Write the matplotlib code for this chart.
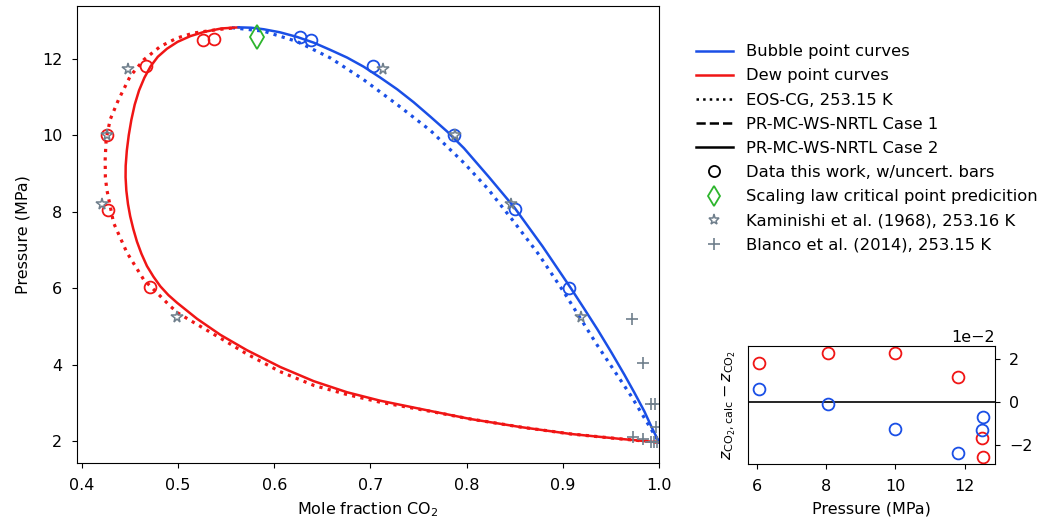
import matplotlib
matplotlib.use("Agg")
import matplotlib.pyplot as plt
from matplotlib.lines import Line2D

plt.rcParams['font.family'] = ['DejaVu Sans']
plt.rcParams['font.size'] = 11.5
plt.rcParams['xtick.major.pad'] = 7.5
plt.rcParams['ytick.major.pad'] = 7.0

BLUE = '#1a4fe6'
RED = '#f01515'
GREEN = '#2db52d'
GREY = '#6f7f8c'

# PR-MC-WS-NRTL Case 2 (solid) curves
bub_x = [0.563, 0.576, 0.589, 0.606, 0.6236, 0.641, 0.6583, 0.6757, 0.693, 0.710,
         0.7278, 0.745, 0.7625, 0.780, 0.7972, 0.823, 0.8493, 0.879, 0.9083, 0.922,
         0.936, 0.950, 0.9639, 0.9743, 0.9847, 0.992, 1.0]
bub_y = [12.82, 12.81, 12.77, 12.69, 12.57, 12.42, 12.23, 12.03, 11.79, 11.51,
         11.20, 10.86, 10.48, 10.09, 9.66, 8.91, 8.12, 7.09, 6.00, 5.47,
         4.92, 4.34, 3.74, 3.27, 2.78, 2.38, 1.97]
dew_x = [0.5632, 0.545, 0.527, 0.5128, 0.4995, 0.4885, 0.4790, 0.4715, 0.4650,
         0.4595, 0.4550, 0.4515, 0.4488, 0.4468, 0.4456, 0.4455, 0.4463, 0.4480,
         0.4503, 0.4535, 0.4573, 0.4620, 0.4677, 0.4745, 0.4816, 0.4900, 0.4990,
         0.5198, 0.5441, 0.5716, 0.6063, 0.641, 0.6757, 0.710, 0.7625, 0.804,
         0.856, 0.908, 0.960, 1.0]
dew_y = [12.82, 12.79, 12.70, 12.59, 12.44, 12.26, 12.05, 11.80, 11.50,
         11.17, 10.80, 10.40, 10.00, 9.60, 9.20, 8.90, 8.55, 8.20,
         7.88, 7.55, 7.22, 6.90, 6.58, 6.30, 6.05, 5.82, 5.62,
         5.20, 4.78, 4.38, 3.94, 3.57, 3.28, 3.06, 2.79, 2.58,
         2.37, 2.19, 2.06, 1.97]

# EOS-CG (dotted)
eos_bub_x = [0.556, 0.589, 0.6236, 0.6583, 0.693, 0.7278, 0.7625, 0.797, 0.822,
             0.849, 0.875, 0.901, 0.936, 0.971, 1.0]
eos_bub_y = [12.81, 12.72, 12.45, 12.02, 11.45, 10.80, 10.12, 9.28, 8.60,
             7.74, 6.88, 5.90, 4.50, 3.18, 1.97]
eos_dew_x = [0.556, 0.5406, 0.516, 0.499, 0.4816, 0.4643, 0.4503, 0.4382, 0.4295,
             0.4253, 0.4243, 0.4245, 0.426, 0.433, 0.4469, 0.4642, 0.492, 0.500,
             0.520, 0.545, 0.5716, 0.606, 0.641, 0.6757, 0.71, 0.7625, 0.804,
             0.856, 0.908, 0.96, 1.0]
eos_dew_y = [12.80, 12.76, 12.67, 12.54, 12.32, 11.97, 11.54, 10.93, 10.41,
             9.89, 9.36, 8.90, 8.58, 7.71, 6.93, 6.23, 5.53, 5.35,
             5.05, 4.68, 4.28, 3.82, 3.46, 3.22, 3.02, 2.78, 2.58,
             2.37, 2.19, 2.06, 1.97]

# data this work
dew_pts_x = [0.4257, 0.4274, 0.4667, 0.4708, 0.5257, 0.5378]
dew_pts_p = [10.0, 8.05, 11.8, 6.02, 12.5, 12.52]
bub_pts_x = [0.6264, 0.6382, 0.7028, 0.7868, 0.850, 0.906]
bub_pts_p = [12.56, 12.5, 11.8, 10.0, 8.08, 6.01]

crit_x = [0.582]
crit_p = [12.58]

kam_x = [0.4476, 0.426, 0.4215, 0.4986, 0.713, 0.788, 0.846, 0.919]
kam_p = [11.74, 10.0, 8.21, 5.26, 11.74, 10.0, 8.21, 5.26]

blanco_x = [0.9715, 0.983, 0.9917, 0.9958, 0.9969, 0.9726, 0.983, 0.9917, 0.9950, 0.9975]
blanco_p = [5.20, 4.04, 2.97, 2.97, 2.36, 2.10, 2.05, 1.98, 1.98, 1.97]

# deviations (inset), units of 1e-2
dev_dew_p = [6.05, 8.05, 10.0, 11.82, 12.49, 12.54]
dev_dew = [1.81, 2.24, 2.24, 1.14, -1.67, -2.55]
dev_bub_p = [6.05, 8.05, 10.0, 11.82, 12.54, 12.49]
dev_bub = [0.58, -0.09, -1.24, -2.36, -0.68, -1.29]

fig = plt.figure(figsize=(10.46, 5.23), dpi=100)
ax = fig.add_axes([0.0736, 0.1147, 0.5565, 0.874])

ax.plot(eos_dew_x, eos_dew_y, ':', color=RED, lw=2.3)
ax.plot(eos_bub_x, eos_bub_y, ':', color=BLUE, lw=2.3)
ax.plot(dew_x, dew_y, '-', color=RED, lw=1.8)
ax.plot(bub_x, bub_y, '-', color=BLUE, lw=1.8)

ax.plot(dew_pts_x, dew_pts_p, 'o', mfc='none', mec=RED, ms=8.5, mew=1.3)
ax.plot(bub_pts_x, bub_pts_p, 'o', mfc='none', mec=BLUE, ms=8.5, mew=1.3)
ax.plot(crit_x, crit_p, 'd', mfc='none', mec=GREEN, ms=12, mew=1.3)
ax.plot(kam_x, kam_p, '*', mfc='none', mec=GREY, ms=8.5, mew=1.1)
ax.plot(blanco_x, blanco_p, '+', color=GREY, ms=8.5, mew=1.2)

ax.set_xlim(0.395, 1.0)
ax.set_ylim(1.43, 13.38)
ax.set_xticks([0.4, 0.5, 0.6, 0.7, 0.8, 0.9, 1.0])
ax.set_yticks([2, 4, 6, 8, 10, 12])
ax.set_xlabel('Mole fraction CO$_2$', labelpad=5)
ax.set_ylabel('Pressure (MPa)', labelpad=8)

handles = [
    Line2D([], [], color=BLUE, lw=1.8),
    Line2D([], [], color=RED, lw=1.8),
    Line2D([], [], color='k', ls=':', lw=1.8),
    Line2D([], [], color='k', ls='--', lw=1.8),
    Line2D([], [], color='k', ls='-', lw=1.8),
    Line2D([], [], ls='none', marker='o', mfc='none', mec='k', ms=8, mew=1.3),
    Line2D([], [], ls='none', marker='d', mfc='none', mec=GREEN, ms=10, mew=1.3),
    Line2D([], [], ls='none', marker='*', mfc='none', mec=GREY, ms=8, mew=1.1),
    Line2D([], [], ls='none', marker='+', color=GREY, ms=8.5, mew=1.2),
]
labels = ['Bubble point curves', 'Dew point curves', 'EOS-CG, 253.15 K',
          'PR-MC-WS-NRTL Case 1', 'PR-MC-WS-NRTL Case 2',
          'Data this work, w/uncert. bars', 'Scaling law critical point predicition',
          'Kaminishi et al. (1968), 253.16 K', 'Blanco et al. (2014), 253.15 K']
fig.legend(handles, labels, loc='upper left', bbox_to_anchor=(0.658, 0.931),
           frameon=False, borderpad=0, handlelength=2.2, handletextpad=0.85,
           labelspacing=0.56, fontsize=11.8)

axin = fig.add_axes([0.715, 0.1128, 0.236, 0.2256])
axin.axhline(0, color='k', lw=1.2)
axin.plot(dev_dew_p, [v * 1e-2 for v in dev_dew], 'o', mfc='none', mec=RED, ms=8.5, mew=1.3)
axin.plot(dev_bub_p, [v * 1e-2 for v in dev_bub], 'o', mfc='none', mec=BLUE, ms=8.5, mew=1.3)
axin.set_xlim(5.74, 12.87)
axin.set_ylim(-0.0286, 0.0258)
axin.set_xticks([6, 8, 10, 12])
axin.set_yticks([-0.02, 0, 0.02])
axin.yaxis.tick_right()
axin.ticklabel_format(axis='y', style='sci', scilimits=(0, 0))
axin.set_xlabel('Pressure (MPa)', labelpad=5)
axin.set_ylabel(r'$z_{\mathrm{CO_2,calc}} - z_{\mathrm{CO_2}}$', labelpad=7)

fig.savefig('out.png', dpi=100)
